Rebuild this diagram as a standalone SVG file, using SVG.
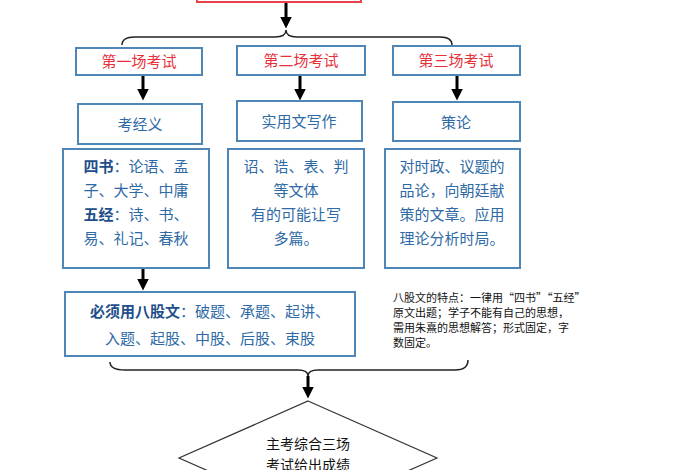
<svg xmlns="http://www.w3.org/2000/svg" width="700" height="470" viewBox="0 0 700 470">
<style>
.box{fill:#fff;stroke:#4f86b8;stroke-width:2}
.red{fill:#fff;stroke:#e8424a;stroke-width:2}
.t{font-family:"Noto Sans CJK SC",sans-serif;font-size:15px;fill:#2e6aa6;text-anchor:middle}
.tr{font-family:"Noto Sans CJK SC",sans-serif;font-size:15px;fill:#e8303a;text-anchor:middle}
.b{font-weight:bold;fill:#1f4f8a}
.n{font-family:"Noto Sans CJK SC",sans-serif;font-size:11px;fill:#111}
.k{font-family:"Noto Sans CJK SC",sans-serif;font-size:14px;fill:#111;text-anchor:middle}
.ln{fill:none;stroke:#222;stroke-width:1.5}
.ar{stroke:#000;stroke-width:3;marker-end:url(#ah)}
</style>
<defs><marker id="ah" markerWidth="4" markerHeight="4" refX="2.5" refY="2" orient="auto"><path d="M0,0L4,2L0,4z" fill="#000"/></marker></defs>
<g id="top"><rect class="red" x="197" y="-10" width="164" height="12"/></g>
<g id="connectors">
<line class="ar" x1="286" y1="3" x2="286" y2="24"/>
<path class="ln" d="M122,45 Q122,37 135,37 L275,37 Q286,37 286,30 Q286,37 297,37 L440,37 Q452,37 452,45"/>
<line class="ar" x1="143" y1="76" x2="143" y2="96"/>
<line class="ar" x1="300" y1="76" x2="300" y2="96"/>
<line class="ar" x1="457" y1="76" x2="457" y2="96"/>
<line class="ar" x1="143" y1="268" x2="143" y2="286"/>
<path class="ln" d="M110,362 Q110,370 125,370 L298,370 Q308,370 308,376 Q308,370 318,370 L455,370 Q468,370 468,360"/>
<line class="ar" x1="308" y1="376" x2="308" y2="394"/>
</g>
<g id="exam1"><rect class="box" x="76" y="48" width="126" height="27"/><text class="tr" x="139" y="67">第一场考试</text></g>
<g id="exam2"><rect class="box" x="237" y="46" width="128" height="29"/><text class="tr" x="301" y="66">第二场考试</text></g>
<g id="exam3"><rect class="box" x="393" y="46" width="127" height="29"/><text class="tr" x="456" y="66">第三场考试</text></g>
<g id="sub1"><rect class="box" x="78" y="104" width="124" height="40"/><text class="t" x="140" y="130">考经义</text></g>
<g id="sub2"><rect class="box" x="237" y="101" width="125" height="40"/><text class="t" x="299" y="127">实用文写作</text></g>
<g id="sub3"><rect class="box" x="393" y="102" width="127" height="39"/><text class="t" x="456" y="128">策论</text></g>
<g id="det1"><rect class="box" x="63" y="149" width="146" height="119"/>
<text class="t" x="136" y="172"><tspan class="b">四书</tspan>：论语、孟</text>
<text class="t" x="136" y="196">子、大学、中庸</text>
<text class="t" x="136" y="220"><tspan class="b">五经</tspan>：诗、书、</text>
<text class="t" x="136" y="244">易、礼记、春秋</text></g>
<g id="det2"><rect class="box" x="228" y="149" width="136" height="119"/>
<text class="t" x="296" y="172">诏、诰、表、判</text>
<text class="t" x="296" y="196">等文体</text>
<text class="t" x="296" y="220">有的可能让写</text>
<text class="t" x="296" y="244">多篇。</text></g>
<g id="det3"><rect class="box" x="385" y="149" width="135" height="119"/>
<text class="t" x="452" y="172">对时政、议题的</text>
<text class="t" x="452" y="196">品论，向朝廷献</text>
<text class="t" x="452" y="220">策的文章。应用</text>
<text class="t" x="452" y="244">理论分析时局。</text></g>
<g id="bagu"><rect class="box" x="65" y="292" width="290" height="64"/>
<text class="t" x="210" y="317"><tspan class="b">必须用八股文</tspan>：破题、承题、起讲、</text>
<text class="t" x="210" y="344">入题、起股、中股、后股、束股</text></g>
<g id="note">
<text class="n" x="393" y="302">八股文的特点：一律用“四书”“五经”</text>
<text class="n" x="393" y="317">原文出题；学子不能有自己的思想，</text>
<text class="n" x="393" y="332">需用朱熹的思想解答；形式固定，字</text>
<text class="n" x="393" y="347">数固定。</text></g>
<g id="decision"><path d="M308,401 L437,458 L308,515 L179,458z" fill="#fff" stroke="#333" stroke-width="1.2"/>
<text class="k" x="308" y="449">主考综合三场</text>
<text class="k" x="308" y="470">考试给出成绩</text></g>
</svg>
